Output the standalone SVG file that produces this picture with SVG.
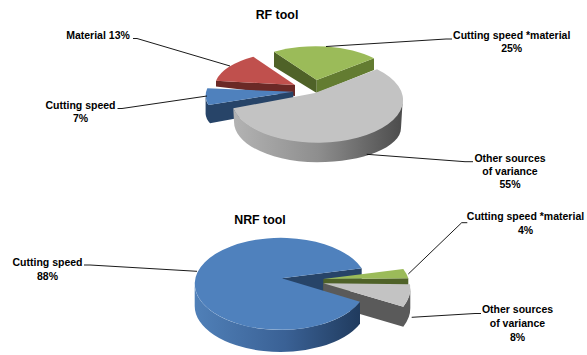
<svg xmlns="http://www.w3.org/2000/svg" width="587" height="355" viewBox="0 0 587 355">
<style>
.title{font-family:"Liberation Sans",Arial,sans-serif;font-size:12.4px;font-weight:bold;fill:#000;text-anchor:middle}
.lbl{font-family:"Liberation Sans",Arial,sans-serif;font-size:10.5px;font-weight:bold;fill:#000;text-anchor:middle}
.lead{fill:none;stroke:#000;stroke-width:0.9}
.gTop{fill:#9bbb59}.gDk{fill:#4f6228}.gDk2{fill:#637c31}
.rTop{fill:#c0504d}.rDk{fill:#6b2926}
.bTop{fill:#4f81bd}.bDk{fill:#274468}
.yTop{fill:#c3c3c3}.yDk{fill:#5a5a5a}
</style>
<defs>
<linearGradient id="graySide" x1="0" y1="0" x2="1" y2="0">
<stop offset="0" stop-color="#b3b3b3"/><stop offset="0.5" stop-color="#8e8e8e"/><stop offset="1" stop-color="#4c4c4c"/>
</linearGradient>
<linearGradient id="blueSide" x1="0" y1="0" x2="1" y2="0">
<stop offset="0" stop-color="#5080b8"/><stop offset="0.55" stop-color="#3a6195"/><stop offset="1" stop-color="#203b5e"/>
</linearGradient>
</defs>
<rect width="587" height="355" fill="#fff"/>

<text class="title" x="277" y="18.5">RF tool</text>
<text class="title" x="260" y="224">NRF tool</text>

<!-- RF pie -->
<g id="rf-material">
<path class="rDk" d="M216,80.7 L295,85 L295,96 L216,86.5 Z"/>
<path class="rTop" d="M295,85 L216,80.7 A78 36 0 0 1 253.3,56.7 Z"/>
</g>
<g id="rf-cs-material">
<path class="gDk" d="M274,51.7 L316.7,80 L316.7,93 L274,66.7 Z"/>
<path class="gDk2" d="M316.7,80 L374,58.3 L374,70 L316.7,93 Z"/>
<path class="gTop" d="M316.7,80 L274,51.7 A78 36 0 0 1 374,58.3 Z"/>
</g>
<g id="rf-cutting-speed">
<path class="bDk" d="M205.6,96 Q205.8,101 208.3,105 L293.3,91.7 L293.3,108 L210,123.3 Q206,119 205.6,114 Z"/>
<path class="bTop" d="M293.3,91.7 L208.3,105 A78 36 0 0 1 207.3,88.3 Z"/>
</g>
<g id="rf-other">
<path fill="url(#graySide)" d="M402.7,100 A85.7 42.7 0 0 1 233.3,108.3 L234,121.7 C234,144 271,162.3 317,162.3 C363,162.3 401,147 401,128 Z"/>
<path class="yTop" d="M315,93 L377,69.3 A85.7 42.7 0 1 1 233.3,108.3 Z"/>
</g>

<!-- NRF pie -->
<g id="nrf-cutting-speed-cut">
<path class="bDk" d="M281.7,278.3 L361.7,268.3 L361.7,289.3 L281.7,299.3 Z"/>
</g>
<g id="nrf-cs-material">
<path class="gDk" d="M323.3,279 L408.3,278.3 L408.3,290 L323.3,291 Z"/>
<path class="gTop" d="M323.3,279 L403.3,269 A86 46 0 0 1 408.3,278.3 Z"/>
</g>
<g id="nrf-other">
<path class="yDk" d="M410.3,288.1 A86 46 0 0 1 403.3,306.7 L323.3,283.3 L323.3,303.3 L403.3,326.7 A86 46 0 0 0 410.3,308.1 Z"/>
<path class="yTop" d="M323.3,283.3 L410,284.3 A86 46 0 0 1 403.3,306.7 Z"/>
</g>
<g id="nrf-cutting-speed">
<path fill="url(#blueSide)" d="M360,301.7 A86 46 0 0 1 194.7,283.8 L194.7,305.8 A86 46 0 0 0 360,323.7 Z"/>
<path class="bTop" d="M281.7,278.3 L360,301.7 A86 46 0 1 1 361.7,268.3 Z"/>
</g>

<!-- labels -->
<g id="lbl-rf-material"><text class="lbl" x="98" y="39">Material 13%</text></g>
<g id="lbl-rf-cs"><text class="lbl" x="80.5" y="108.5">Cutting speed</text><text class="lbl" x="80.5" y="121.7">7%</text></g>
<g id="lbl-rf-csm"><text class="lbl" x="511.7" y="39">Cutting speed *material</text><text class="lbl" x="511.7" y="52.3">25%</text></g>
<g id="lbl-rf-other"><text class="lbl" x="510" y="161.7">Other sources</text><text class="lbl" x="510" y="175">of variance</text><text class="lbl" x="510" y="187.5">55%</text></g>
<g id="lbl-nrf-cs"><text class="lbl" x="47.5" y="265.5">Cutting speed</text><text class="lbl" x="47.5" y="279.5">88%</text></g>
<g id="lbl-nrf-csm"><text class="lbl" x="525.5" y="220">Cutting speed *material</text><text class="lbl" x="525.5" y="234">4%</text></g>
<g id="lbl-nrf-other"><text class="lbl" x="517.5" y="313.3">Other sources</text><text class="lbl" x="517.5" y="327.3">of variance</text><text class="lbl" x="517.5" y="340.5">8%</text></g>

<g id="connectors">
<polyline class="lead" points="133,38.5 137,38.5 230,66"/>
<polyline class="lead" points="117.5,108.5 122,108.5 207,96"/>
<polyline class="lead" points="452,39 446,39 326,46.5"/>
<polyline class="lead" points="473,161.7 465,161.7 366.7,154.3"/>
<polyline class="lead" points="84,265 90,265 197,271.3"/>
<polyline class="lead" points="467.3,222.7 461.7,222.7 408.3,274"/>
<polyline class="lead" points="481,313.5 475,313.5 411.7,317.3"/>
</g>
</svg>
